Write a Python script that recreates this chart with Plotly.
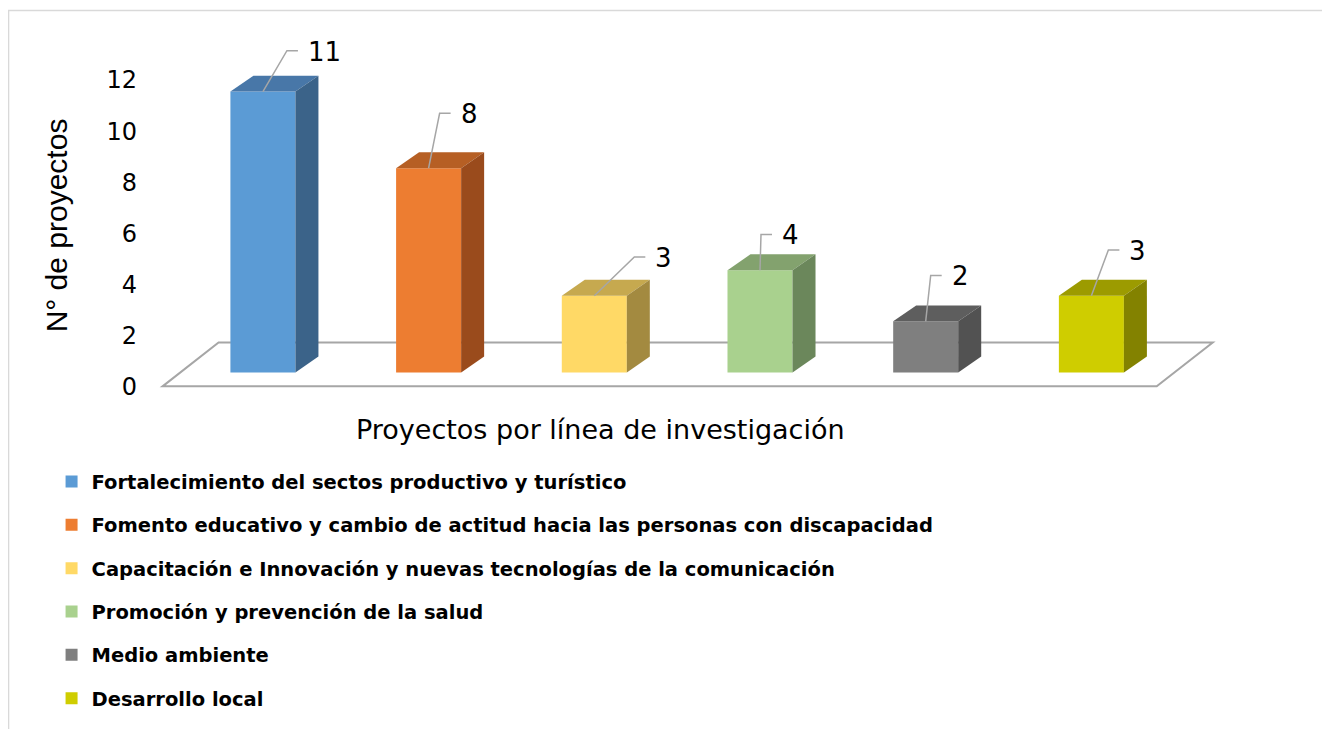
import plotly.graph_objects as go

# ---------------- data ----------------
categorias = [
    "Fortalecimiento del sectos productivo y turístico",
    "Fomento educativo y cambio de actitud hacia las personas con discapacidad",
    "Capacitación e Innovación y nuevas tecnologías de la comunicación",
    "Promoción y prevención de la salud",
    "Medio ambiente",
    "Desarrollo local",
]
proyectos = [11, 8, 3, 4, 2, 3]
y_ticks = [0, 2, 4, 6, 8, 10, 12]
y_title = "N° de proyectos"
x_title = "Proyectos por línea de investigación"

# ---------------- styles ----------------
col_front = ["#5B9BD5", "#ED7D31", "#FFD966", "#A9D18E", "#7F7F7F", "#CFCD00"]
col_top = ["#4877A8", "#B65F24", "#C6A94F", "#83A26E", "#5E5E5E", "#9C9B00"]
col_side = ["#3B6389", "#9A4B1C", "#A38A40", "#6B875B", "#525252", "#838200"]
# leader-line elbow offsets for data labels (pixels: right, up)
lab_dx = [24, 11, 40, 1, 5, 17]
lab_dy = [41, 55, 39, 36, 46, 46]

# page body has a default 8px margin; size the figure to fill the window
BODY = 8
W, H = 1330 - BODY, 729 - BODY
# plot box in screen pixels
PL, PR, PT, PB = 146.4, 1223.0, 28.6, 394.7
ML, MR, MT, MB = PL - BODY, W - (PR - BODY), PT - BODY, H - (PB - BODY)
X_RANGE = [-0.6, 5.9]
Y_RANGE = [-0.3, 14.0]
pw, ph = PR - PL, PB - PT
PXX = pw / (X_RANGE[1] - X_RANGE[0])
PXY = ph / (Y_RANGE[1] - Y_RANGE[0])


def ux(px):
    return px / PXX


def uy(px):
    return px / PXY


def paper_x(sx_):
    return (sx_ - PL) / pw


def paper_y(sy_):
    return (PB - sy_) / ph


FRONT_SHIFT = (17.5, 14)  # px
BAR_DEPTH = (23, 16)  # px
BAR_W = 65  # px
FLOOR_DEPTH = (56, 44)  # px

fig = go.Figure()

# floor
fx0, fx1 = -0.5, len(proyectos) - 0.5
fdx, fdy = ux(FLOOR_DEPTH[0]), uy(FLOOR_DEPTH[1])
floor_path = (f"M {fx0},0 L {fx1},0 L {fx1 + fdx},{fdy} "
              f"L {fx0 + fdx},{fdy} Z")
fig.add_shape(type="path", path=floor_path, xref="x", yref="y",
              line=dict(color="#A6A6A6", width=2), fillcolor="white",
              layer="below")

sx, sy = ux(FRONT_SHIFT[0]), uy(FRONT_SHIFT[1])
ddx, ddy = ux(BAR_DEPTH[0]), uy(BAR_DEPTH[1])
bw = ux(BAR_W)

for i, (name, v) in enumerate(zip(categorias, proyectos)):
    xc = i + sx
    x0, x1 = xc - bw / 2, xc + bw / 2
    base, top = sy, sy + v
    fig.add_trace(go.Bar(
        x=[xc], y=[v], base=[base], width=[bw], name=name,
        marker=dict(color=col_front[i], line=dict(width=0)),
        legendgroup=f"g{i}", hoverinfo="skip"))
    # top face
    fig.add_trace(go.Scatter(
        x=[x0, x1, x1 + ddx, x0 + ddx, x0],
        y=[top, top, top + ddy, top + ddy, top],
        fill="toself", fillcolor=col_top[i], mode="lines",
        line=dict(width=0, color=col_top[i]), showlegend=False,
        hoverinfo="skip"))
    # side face
    fig.add_trace(go.Scatter(
        x=[x1, x1 + ddx, x1 + ddx, x1, x1],
        y=[base, base + ddy, top + ddy, top, base],
        fill="toself", fillcolor=col_side[i], mode="lines",
        line=dict(width=0, color=col_side[i]), showlegend=False,
        hoverinfo="skip"))
    # leader line
    ex, ey = xc + ux(lab_dx[i]), top + uy(lab_dy[i])
    fig.add_trace(go.Scatter(
        x=[xc, ex, ex + ux(11)], y=[top, ey, ey], mode="lines",
        line=dict(color="#A6A6A6", width=1.5), showlegend=False,
        hoverinfo="skip"))
    fig.add_annotation(
        x=ex + ux(19), y=ey, xref="x", yref="y", text=str(v),
        showarrow=False, xanchor="left", yanchor="middle", yshift=-1,
        font=dict(family="DejaVu Sans", size=26, color="black"))

# axis titles
fig.add_annotation(x=paper_x(57), y=paper_y(226), xref="paper", yref="paper",
                   text=y_title, textangle=-90, showarrow=False,
                   xanchor="center", yanchor="middle",
                   font=dict(family="Liberation Sans", size=30, color="black"))
fig.add_annotation(x=paper_x(601), y=paper_y(430), xref="paper", yref="paper",
                   text=x_title, showarrow=False,
                   xanchor="center", yanchor="middle",
                   font=dict(family="DejaVu Sans", size=27, color="black"))

# outer border
fig.add_shape(type="rect", xref="paper", yref="paper",
              x0=paper_x(9), x1=paper_x(1345), y0=paper_y(745), y1=paper_y(10),
              line=dict(color="#D9D9D9", width=1.5), layer="below")

fig.update_layout(
    width=W, height=H,
    margin=dict(l=ML, r=MR, t=MT, b=MB, pad=0),
    paper_bgcolor="white", plot_bgcolor="white",
    barmode="overlay",
    showlegend=True,
    legend=dict(x=paper_x(52), y=paper_y(462), xanchor="left", yanchor="top",
                tracegroupgap=15, bgcolor="rgba(0,0,0,0)",
                font=dict(family="DejaVu Sans", size=19.5, color="black",
                          weight="bold")),
    xaxis=dict(range=X_RANGE, visible=False, showgrid=False, zeroline=False,
               fixedrange=True, automargin=False),
    yaxis=dict(range=Y_RANGE, tickvals=y_ticks,
               ticktext=[str(t) for t in y_ticks], showgrid=False,
               zeroline=False, showline=False, ticks="",
               ticklabelstandoff=8, automargin=False,
               tickfont=dict(family="DejaVu Sans", size=24, color="black"),
               fixedrange=True),
)

fig.write_html("out.html")
